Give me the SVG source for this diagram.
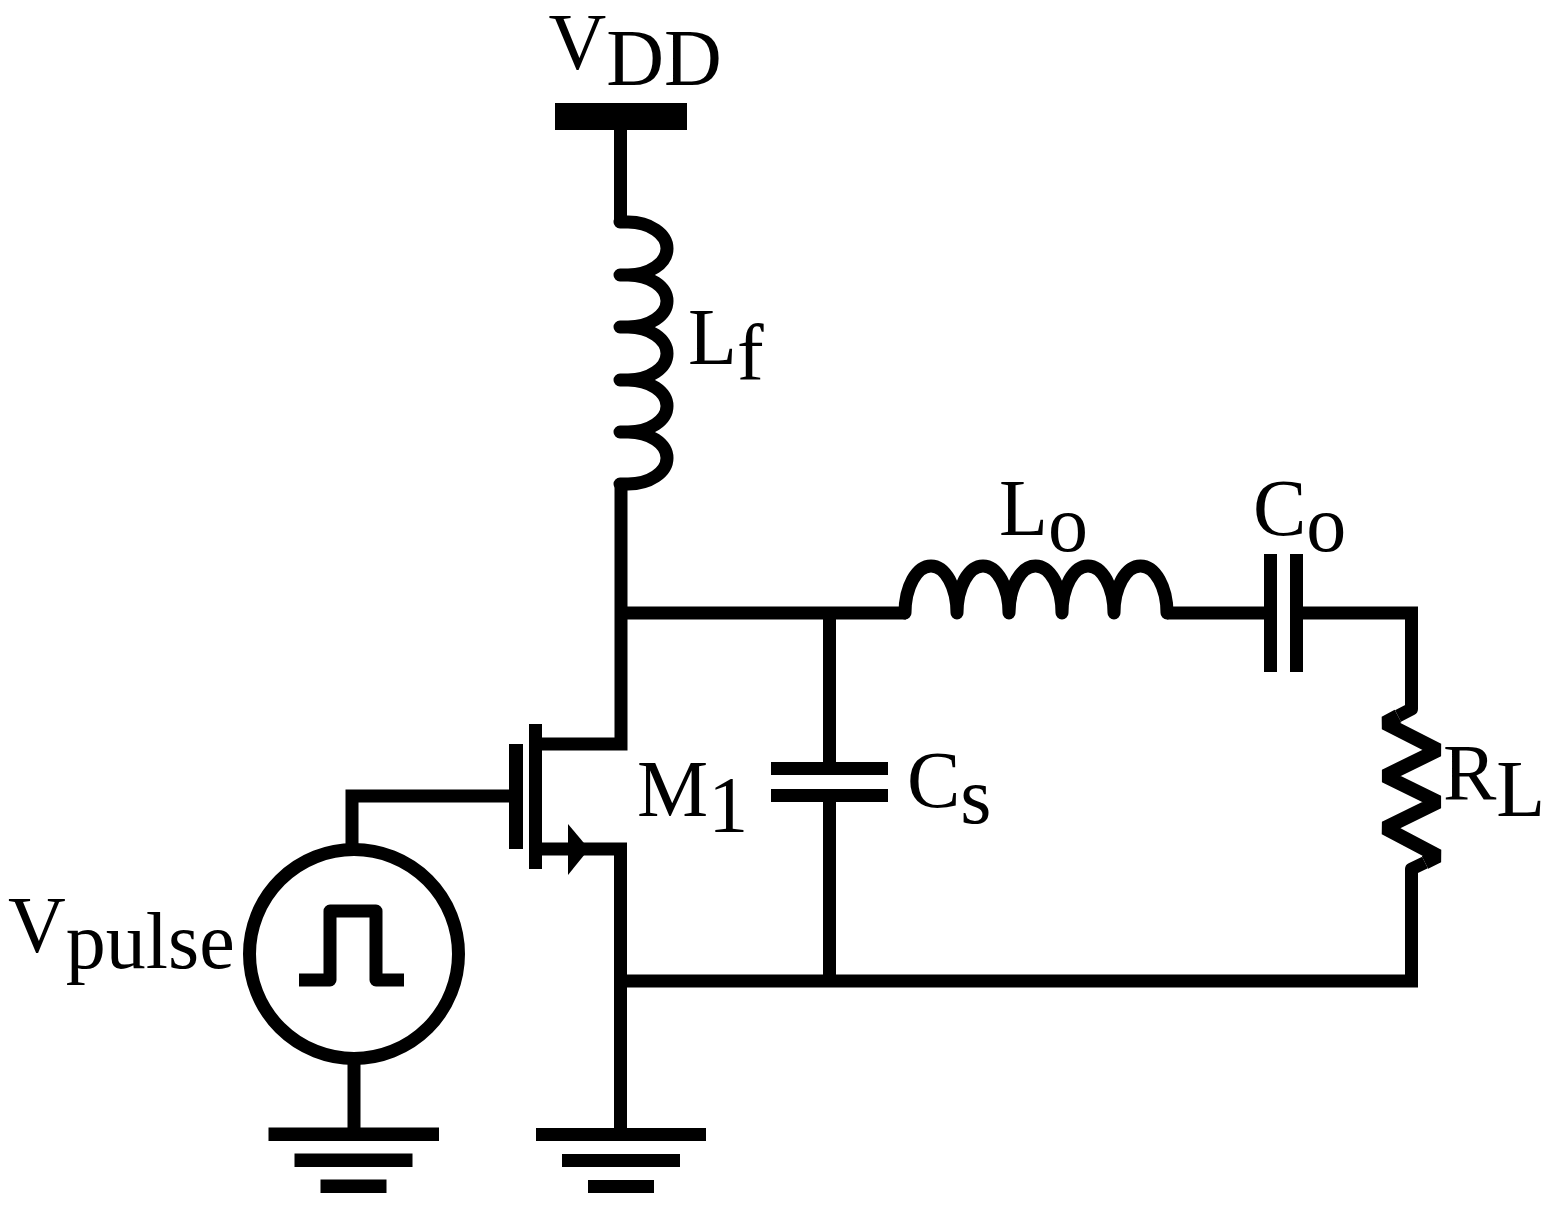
<svg xmlns="http://www.w3.org/2000/svg" width="1567" height="1216" viewBox="0 0 1567 1216">
<style>
.w{fill:none;stroke:#000;stroke-width:13;stroke-linejoin:miter;stroke-linecap:butt}
.r{fill:none;stroke:#000;stroke-width:13;stroke-linecap:round;stroke-linejoin:round}
.p{fill:none;stroke:#000;stroke-width:13;stroke-linecap:butt;stroke-linejoin:round}
.z{fill:none;stroke:#000;stroke-width:14;stroke-linejoin:bevel}
.b{fill:#000}
text{font-family:"Liberation Serif","Times New Roman",serif;font-size:80px;fill:#000}
</style>
<rect width="1567" height="1216" fill="#fff"/>
<g id="connectors">
<path class="w" d="M620.500 130V224"/>
<path class="w" d="M621 483V744H535M535 849H620.500V1134M621 613H906M1167 613H1268M1297 613H1411.500V705M1411.500 875V987M621 981H1418M829.500 613V767M829.500 795V981"/>
<path class="w" d="M352 845V796H512M354 1058V1130"/>
</g>
<g id="vdd">
<rect class="b" x="555" y="103" width="132" height="27"/>
<text x="548.500" y="69">V<tspan dy="16">DD</tspan></text>
</g>
<g id="lf">
<path class="r" d="M620 222H628A39 26.500 0 0 1 628 275H620M628 275A39 26 0 0 1 628 327H620M628 327A39 26.500 0 0 1 628 380H620M628 380A39 26 0 0 1 628 432H620M628 432A39 26 0 0 1 628 484H620"/>
<text x="688" y="364">L<tspan dy="16">f</tspan></text>
</g>
<g id="lo">
<path class="r" d="M905 613A26 47 0 0 1 957 613A26 47 0 0 1 1009 613A26.500 47 0 0 1 1062 613A26 47 0 0 1 1114 613A26.500 47 0 0 1 1167 613"/>
<text x="999" y="535">L<tspan dy="16">o</tspan></text>
</g>
<g id="co">
<rect class="b" x="1264" y="554" width="13" height="118"/>
<rect class="b" x="1290" y="554" width="13" height="118"/>
<text x="1253" y="535">C<tspan dy="16">o</tspan></text>
</g>
<g id="rl">
<path class="z" d="M1398 716L1385 723L1438 750L1385 776L1438 802L1385 828L1438 856L1425 862.500"/>
<path class="p" d="M1411.500 700V709L1398 716M1425 862.500L1411.500 869V880"/>
<text x="1443" y="800">R<tspan dy="16">L</tspan></text>
</g>
<g id="cs">
<rect class="b" x="771" y="762" width="117" height="13"/>
<rect class="b" x="771" y="789" width="117" height="13"/>
<text x="907" y="807">C<tspan dy="16">s</tspan></text>
</g>
<g id="m1">
<rect class="b" x="509" y="744" width="14" height="105"/>
<rect class="b" x="529" y="724" width="13" height="145"/>
<path class="b" d="M568 824L589 849L568 875Z"/>
<text x="637" y="816">M<tspan dy="16">1</tspan></text>
</g>
<g id="vpulse">
<circle cx="354" cy="954" r="104.500" fill="none" stroke="#000" stroke-width="13"/>
<path class="p" d="M299 980H330V911H376V980H404"/>
<text x="8" y="952">V<tspan dy="16">pulse</tspan></text>
</g>
<g id="gnd1">
<rect class="b" x="268.500" y="1127.500" width="170.500" height="13.500"/>
<rect class="b" x="294.500" y="1153.500" width="118" height="13.500"/>
<rect class="b" x="320.500" y="1179.500" width="66" height="13.500"/>
</g>
<g id="gnd2">
<rect class="b" x="536" y="1128" width="170" height="13"/>
<rect class="b" x="562" y="1154" width="118" height="13"/>
<rect class="b" x="588" y="1180" width="66" height="13"/>
</g>
</svg>
